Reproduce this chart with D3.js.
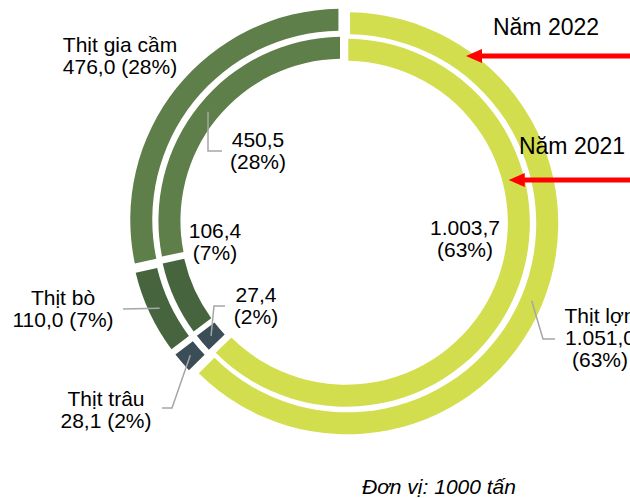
<!DOCTYPE html>
<html>
<head>
<meta charset="utf-8">
<script src="https://cdn.jsdelivr.net/npm/d3@7"></script>
<style>
  html, body { margin: 0; padding: 0; background: #fff; }
  svg { display: block; font-family: Arial, "Liberation Sans", sans-serif; }
</style>
</head>
<body>
<div id="chart"></div>
<script>
// data (unit: 1000 tấn)
const categories = ["Thịt lợn", "Thịt trâu", "Thịt bò", "Thịt gia cầm"];
const values2022 = [1051.0, 28.1, 110.0, 476.0];
const values2021 = [1003.7, 27.4, 106.4, 450.5];
const pct2022 = [63, 2, 7, 28];
const pct2021 = [63, 2, 7, 28];
const colors = ["#d3de4e", "#3b4d56", "#46653f", "#5e7e4a"];

const width = 630, height = 498;
const cx = 344, cy = 222;

const vi = d3.formatLocale({ decimal: ",", thousands: ".", grouping: [3], currency: ["", ""] });
const fmt = vi.format(",.1f");

const svg = d3.select("#chart").append("svg")
  .attr("width", width)
  .attr("height", height);

const g = svg.append("g").attr("transform", `translate(${cx},${cy})`);

const pie = d3.pie().sort(null).value(d => d).padAngle(0.02);

// outer ring = 2022, inner ring = 2021
const rings = [
  { year: 2022, values: values2022, pct: pct2022, inner: 189, outer: 211, explode: 3.5 },
  { year: 2021, values: values2021, pct: pct2021, inner: 162, outer: 184, explode: 2 }
];

rings.forEach(ring => {
  ring.arcs = pie(ring.values);
  ring.arc = d3.arc().innerRadius(ring.inner).outerRadius(ring.outer);
  ring.shift = d => {
    const a = (d.startAngle + d.endAngle) / 2;
    return [Math.sin(a) * ring.explode, -Math.cos(a) * ring.explode];
  };

  g.append("g").selectAll("path")
    .data(ring.arcs)
    .enter()
    .append("path")
      .attr("d", ring.arc)
      .attr("transform", d => `translate(${ring.shift(d)})`)
      .attr("fill", (d, i) => colors[i]);
});

// label layout (absolute page coords), one entry per slice
const labelLayout = {
  2022: [
    { x: 600, y: 323, named: true, split: true, leader: [[543, 339], [555, 339]] },
    { x: 106, y: 406, named: true, leader: [[172, 408], [162, 408]] },
    { x: 63, y: 305, named: true, leader: [[123, 309]] },
    { x: 120, y: 52, named: true, leader: null }
  ],
  2021: [
    { x: 465, y: 235, leader: null },
    { x: 256, y: 302, leader: [[214, 306], [225, 306]] },
    { x: 215, y: 238, leader: null },
    { x: 258, y: 147, leader: [[208, 151], [222, 151]] }
  ]
};

const labels = svg.append("g");
const leaders = svg.append("g");

rings.forEach(ring => {
  const mid = d3.arc().innerRadius((ring.inner + ring.outer) / 2 + ring.explode)
    .outerRadius((ring.inner + ring.outer) / 2 + ring.explode);
  ring.arcs.forEach((d, i) => {
    const lay = labelLayout[ring.year][i];
    const val = fmt(ring.values[i]);
    const pct = "(" + ring.pct[i] + "%)";
    let lines;
    if (lay.named && lay.split) lines = [categories[i], val, pct];
    else if (lay.named) lines = [categories[i], val + " " + pct];
    else lines = [val, pct];

    const t = labels.append("text")
      .attr("x", lay.x)
      .attr("y", lay.y)
      .attr("text-anchor", "middle")
      .style("font-size", "21px")
      .attr("fill", "#000");
    lines.forEach((ln, k) => {
      t.append("tspan").attr("x", lay.x).attr("y", lay.y + k * 22).text(ln);
    });

    if (lay.leader) {
      const c = mid.centroid(d);
      const pts = [[cx + c[0], cy + c[1]]].concat(lay.leader);
      leaders.append("path")
        .attr("d", d3.line()(pts))
        .attr("fill", "none")
        .attr("stroke", "#a6a6a6")
        .attr("stroke-width", 1.5);
    }
  });
});

// year callouts with red arrows pointing at the rings
const callouts = [
  { text: "Năm 2022", tx: 546, ty: 35, ay: 56, r: 206 },
  { text: "Năm 2021", tx: 572, ty: 154, ay: 180, r: 170 }
];

callouts.forEach(c => {
  svg.append("text")
    .attr("x", c.tx)
    .attr("y", c.ty)
    .attr("text-anchor", "middle")
    .style("font-size", "23px")
    .attr("fill", "#000")
    .text(c.text);

  const dy = c.ay - cy;
  const tipX = cx + Math.sqrt(c.r * c.r - dy * dy);
  svg.append("line")
    .attr("x1", tipX + 14)
    .attr("x2", width + 10)
    .attr("y1", c.ay)
    .attr("y2", c.ay)
    .attr("stroke", "#ff0000")
    .attr("stroke-width", 5);
  svg.append("path")
    .attr("d", d3.line()([[tipX, c.ay], [tipX + 16, c.ay - 7], [tipX + 16, c.ay + 7]]) + "Z")
    .attr("fill", "#ff0000");
});

svg.append("text")
  .attr("x", 362)
  .attr("y", 494)
  .style("font-size", "21px")
  .style("font-style", "italic")
  .attr("fill", "#000")
  .text("Đơn vị: 1000 tấn");
</script>
</body>
</html>
